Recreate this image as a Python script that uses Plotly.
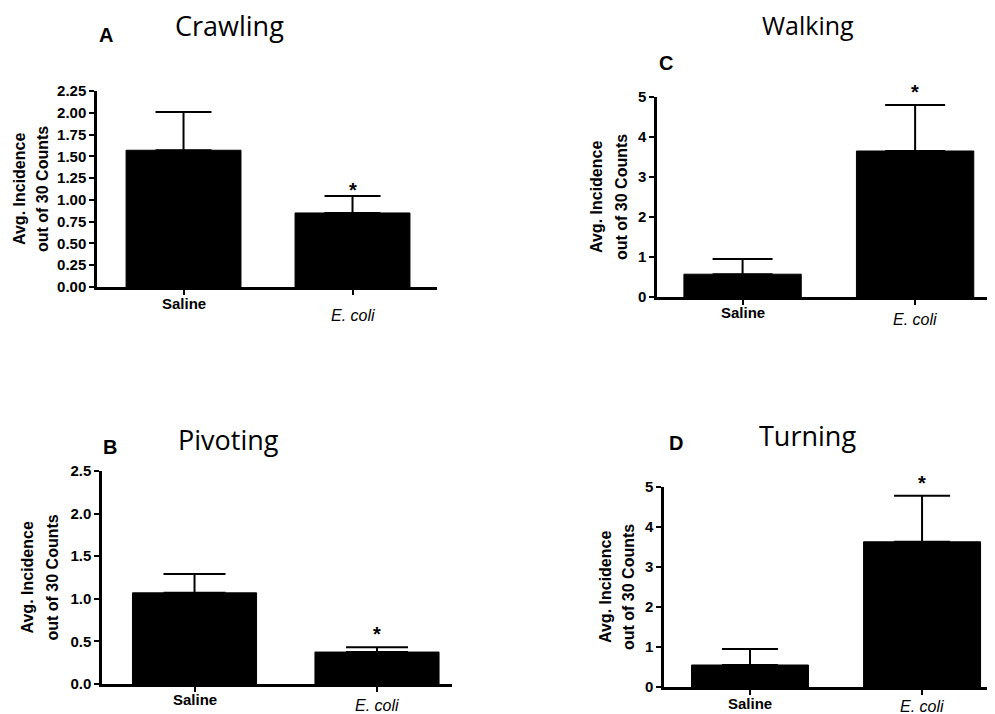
import plotly.graph_objects as go

W, H = 995, 714
OFF = 8  # page body margin offset of the rendered figure

categories = ["Saline", "E. coli"]
panel_letters = ["A", "C", "B", "D"]
panel_titles = ["Crawling", "Walking", "Pivoting", "Turning"]

crawling_mean = [1.57, 0.85]
crawling_sem = [0.44, 0.195]
walking_mean = [0.57, 3.65]
walking_sem = [0.38, 1.15]
pivoting_mean = [1.07, 0.375]
pivoting_sem = [0.22, 0.055]
turning_mean = [0.55, 3.63]
turning_sem = [0.40, 1.15]

significant = [False, True]

y_max = [2.25, 5, 2.5, 5]
y_dtick = [0.25, 1, 0.5, 1]
y_fmt = [".2f", "d", ".1f", "d"]

means = [crawling_mean, walking_mean, pivoting_mean, turning_mean]
sems = [crawling_sem, walking_sem, pivoting_sem, turning_sem]

# layout geometry (pixels in the target picture)
px_x = [(97, 437), (657, 995), (102, 452), (664, 995)]
px_y = [(91, 287), (97, 297), (471, 684), (487, 687)]
x_ranges = [(-0.512, 1.50), (-0.496, 1.463), (-0.507, 1.411), (-0.5, 1.424)]
cap_w = [28, 30, 31, 28]
title_pos = [(229, 25), (808, 25), (228, 440), (807, 435)]
title_size = [27, 25, 27, 27]
letter_pos = [(106, 35), (666, 63), (110, 447), (676, 443)]
ytitle_x = [(19, 42), (597, 622), (27, 52), (605, 628)]
cat_label_y = [(303, 315), (312, 319), (699, 705), (703, 706)]
star_shift = [-7, 0, 0, 0]

ARIAL = "Liberation Sans, Arial, sans-serif"
TITLEF = "Open Sans, sans-serif"

def fx(p):
    return (p - OFF) / W

def fy(p):
    return 1 - (p - OFF) / H

fig = go.Figure()
annotations = []
layout = {}

for i in range(4):
    sfx = "" if i == 0 else str(i + 1)
    xa, ya = "x" + sfx, "y" + sfx
    fig.add_trace(go.Bar(
        x=[0, 1], y=means[i], width=0.68,
        marker=dict(color="black", line=dict(color="black", width=1)),
        error_y=dict(type="data", array=sems[i], arrayminus=[0, 0], symmetric=False,
                     color="black", thickness=2, width=cap_w[i]),
        xaxis=xa, yaxis=ya, showlegend=False, hoverinfo="skip",
    ))
    layout["xaxis" + sfx] = dict(
        domain=[fx(px_x[i][0]), min(1, fx(px_x[i][1]))], range=list(x_ranges[i]),
        anchor=ya, showline=True, linecolor="black", linewidth=2.5,
        tickvals=[0, 1], ticks="outside", ticklen=5, tickwidth=2, tickcolor="black",
        showticklabels=False, showgrid=False, zeroline=False, fixedrange=True,
        automargin=False,
    )
    layout["yaxis" + sfx] = dict(
        domain=[fy(px_y[i][1]), fy(px_y[i][0])], range=[0, y_max[i]],
        anchor=xa, showline=True, linecolor="black", linewidth=2.5,
        dtick=y_dtick[i], tick0=0, tickformat=y_fmt[i],
        ticks="outside", ticklen=5, tickwidth=2, tickcolor="black",
        tickfont=dict(family=ARIAL, size=15, color="black", weight="bold"),
        showgrid=False, zeroline=False, fixedrange=True, automargin=False,
    )
    # panel title and letter
    annotations.append(dict(text=panel_titles[i], xref="paper", yref="paper",
                            x=fx(title_pos[i][0]), y=fy(title_pos[i][1]),
                            xanchor="center", yanchor="middle", showarrow=False,
                            font=dict(family=TITLEF, size=title_size[i], color="black")))
    annotations.append(dict(text="<b>" + panel_letters[i] + "</b>", xref="paper", yref="paper",
                            x=fx(letter_pos[i][0]), y=fy(letter_pos[i][1]),
                            xanchor="center", yanchor="middle", showarrow=False,
                            font=dict(family=ARIAL, size=20, color="black")))
    # y-axis title (two lines)
    ymid = fy((px_y[i][0] + px_y[i][1]) / 2)
    for line, xp in zip(["Avg. Incidence", "out of 30 Counts"], ytitle_x[i]):
        annotations.append(dict(text="<b>" + line + "</b>", xref="paper", yref="paper",
                                x=fx(xp), y=ymid, textangle=-90,
                                xanchor="center", yanchor="middle", showarrow=False,
                                font=dict(family=ARIAL, size=16, color="black")))
    # category labels
    annotations.append(dict(text="<b>" + categories[0] + "</b>", xref=xa, yref="paper",
                            x=0, y=fy(cat_label_y[i][0]), xanchor="center", yanchor="middle",
                            showarrow=False, font=dict(family=ARIAL, size=15, color="black")))
    annotations.append(dict(text="<i>" + categories[1] + "</i>", xref=xa, yref="paper",
                            x=1, y=fy(cat_label_y[i][1]), xanchor="center", yanchor="middle",
                            showarrow=False, font=dict(family=ARIAL, size=16, color="black")))
    # significance stars
    for j in range(2):
        if significant[j]:
            annotations.append(dict(text="<b>*</b>", xref=xa, yref=ya,
                                    x=j, y=means[i][j] + sems[i][j], xanchor="center",
                                    yanchor="bottom", yshift=star_shift[i], showarrow=False,
                                    font=dict(family=ARIAL, size=20, color="black")))

fig.update_layout(
    template="none",
    width=W, height=H, margin=dict(l=0, r=0, t=0, b=0, pad=0),
    paper_bgcolor="white", plot_bgcolor="white",
    annotations=annotations, **layout,
)

fig.write_html("out.html")
